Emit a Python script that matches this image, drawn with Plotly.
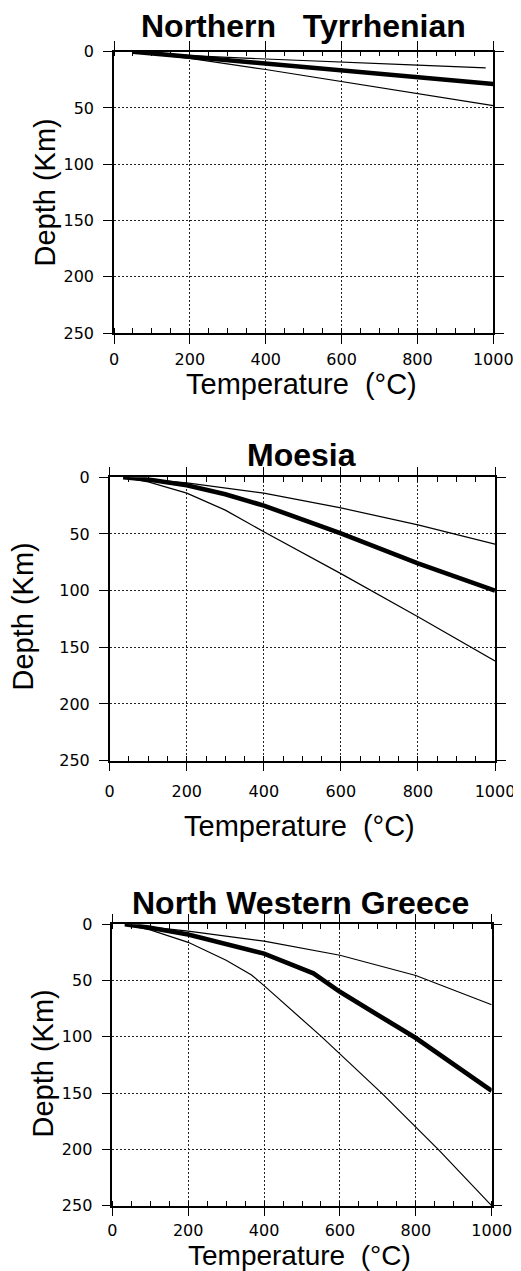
import plotly.graph_objects as go

# ---------------- data ----------------
titles = ["Northern\u00a0\u00a0\u00a0Tyrrhenian", "Moesia", "North Western Greece"]

# Northern Tyrrhenian
nt_upper_T = [50, 200, 400, 600, 800, 980]
nt_upper_Z = [0, 3.5, 6.5, 9.5, 12, 14.3]
nt_thick_T = [50, 200, 400, 600, 800, 1000]
nt_thick_Z = [0, 4.5, 10.5, 16.5, 22.7, 28.7]
nt_lower_T = [50, 200, 400, 600, 800, 1000]
nt_lower_Z = [0, 6, 15.8, 26.5, 37.5, 48]

# Moesia
mo_upper_T = [35, 200, 400, 600, 800, 1000]
mo_upper_Z = [0, 5, 14, 27, 42, 59]
mo_thick_T = [35, 100, 200, 300, 400, 500, 600, 800, 1000]
mo_thick_Z = [0, 2, 7, 15, 25, 37, 49.5, 76, 100]
mo_lower_T = [35, 100, 200, 300, 400, 600, 800, 1000]
mo_lower_Z = [0, 4, 14, 29, 48, 85, 123, 162]

# North Western Greece
gr_upper_T = [33, 200, 400, 600, 800, 1000]
gr_upper_Z = [0, 6, 15, 27.5, 45.5, 71.5]
gr_thick_T = [33, 100, 200, 300, 400, 530, 600, 700, 800, 1000]
gr_thick_Z = [0, 3, 9, 17, 26, 43.5, 60, 80.5, 101, 148]
gr_lower_T = [33, 100, 200, 300, 367, 400, 552, 710, 859, 1000]
gr_lower_Z = [0, 5, 16, 32, 45, 54.5, 100, 150, 200, 250]

x_ticks = [0, 200, 400, 600, 800, 1000]
y_ticks = [0, 50, 100, 150, 200, 250]

panels = [
    [(nt_upper_T, nt_upper_Z, 1.2), (nt_thick_T, nt_thick_Z, 4.6), (nt_lower_T, nt_lower_Z, 1.2)],
    [(mo_upper_T, mo_upper_Z, 1.2), (mo_thick_T, mo_thick_Z, 4.6), (mo_lower_T, mo_lower_Z, 1.2)],
    [(gr_upper_T, gr_upper_Z, 1.2), (gr_thick_T, gr_thick_Z, 4.6), (gr_lower_T, gr_lower_Z, 1.2)],
]

# ---------------- layout (screen pixels of the target) ----------------
OFF = 8                      # page body margin of the viewer
W, H = 521 - OFF, 1271 - OFF
# plot boxes: left, right, top, bottom
boxes = [
    (114.0, 493.3, 51.7, 333.0),
    (109.7, 495.0, 477.3, 760.6),
    (112.3, 491.7, 924.3, 1205.7),
]
title_pos = [(303, 26), (301, 455), (300.5, 902.5)]
xtitle_pos = [(301.5, 383.5), (299, 826), (299.5, 1255)]
xtitle_size = [29, 29, 28]
ytitle_pos = [(45, 192.5), (22.5, 617), (42.5, 1064)]
xlabel_standoff = [2, 6, 0]
ylabel_standoff = [6, 6, 6]

def px(x):
    return (x - OFF) / W

def py(y):
    return 1 - (y - OFF) / H

fig = go.Figure()
tick_font = dict(family="DejaVu Sans", size=16, color="black")

for i, traces in enumerate(panels):
    n = i + 1
    xa = "x" if n == 1 else f"x{n}"
    ya = "y" if n == 1 else f"y{n}"
    for T, Z, w in traces:
        fig.add_trace(go.Scatter(x=T, y=Z, mode="lines", xaxis=xa, yaxis=ya,
                                 line=dict(color="black", width=w), showlegend=False,
                                 hoverinfo="skip"))
    l, r, t, b = boxes[i]
    xkey = "xaxis" if n == 1 else f"xaxis{n}"
    ykey = "yaxis" if n == 1 else f"yaxis{n}"
    fig.update_layout(**{
        xkey: dict(domain=[px(l), px(r)], anchor=ya, range=[0, 1000], automargin=False,
                   tickvals=x_ticks, ticks="outside", ticklen=9, tickwidth=1.3,
                   tickcolor="black", showline=True, linecolor="black", linewidth=1.5,
                   mirror="ticks", showgrid=True, gridcolor="#222", gridwidth=1,
                   griddash="2px,2px", zeroline=False, tickfont=tick_font,
                   ticklabelstandoff=xlabel_standoff[i],
                   minor=dict(dtick=50, ticks="inside", ticklen=5, tickwidth=1,
                              tickcolor="black", showgrid=False)),
        ykey: dict(domain=[py(b), py(t)], anchor=xa, range=[250, 0], automargin=False,
                   tickvals=y_ticks, ticks="outside", ticklen=9, tickwidth=1.3,
                   tickcolor="black", showline=True, linecolor="black", linewidth=1.5,
                   mirror="ticks", showgrid=True, gridcolor="#222", gridwidth=1,
                   griddash="2px,2px", zeroline=False, tickfont=tick_font,
                   ticklabelstandoff=ylabel_standoff[i]),
    })
    fig.add_annotation(text=titles[i], x=px(title_pos[i][0]), y=py(title_pos[i][1]),
                       xref="paper", yref="paper", xanchor="center", yanchor="middle",
                       showarrow=False,
                       font=dict(family="Liberation Sans", size=32, color="black", weight="bold"))
    fig.add_annotation(text="Temperature\u00a0\u00a0(°C)", x=px(xtitle_pos[i][0]),
                       y=py(xtitle_pos[i][1]), xref="paper", yref="paper",
                       xanchor="center", yanchor="middle", showarrow=False,
                       font=dict(family="Liberation Sans", size=xtitle_size[i], color="black"))
    fig.add_annotation(text="Depth (Km)", x=px(ytitle_pos[i][0]), y=py(ytitle_pos[i][1]),
                       xref="paper", yref="paper", xanchor="center", yanchor="middle",
                       textangle=-90, showarrow=False,
                       font=dict(family="Liberation Sans", size=29, color="black"))

fig.update_layout(width=W, height=H, margin=dict(l=0, r=0, t=0, b=0, pad=0, autoexpand=False),
                  paper_bgcolor="white", plot_bgcolor="white")

fig.write_html("out.html")
